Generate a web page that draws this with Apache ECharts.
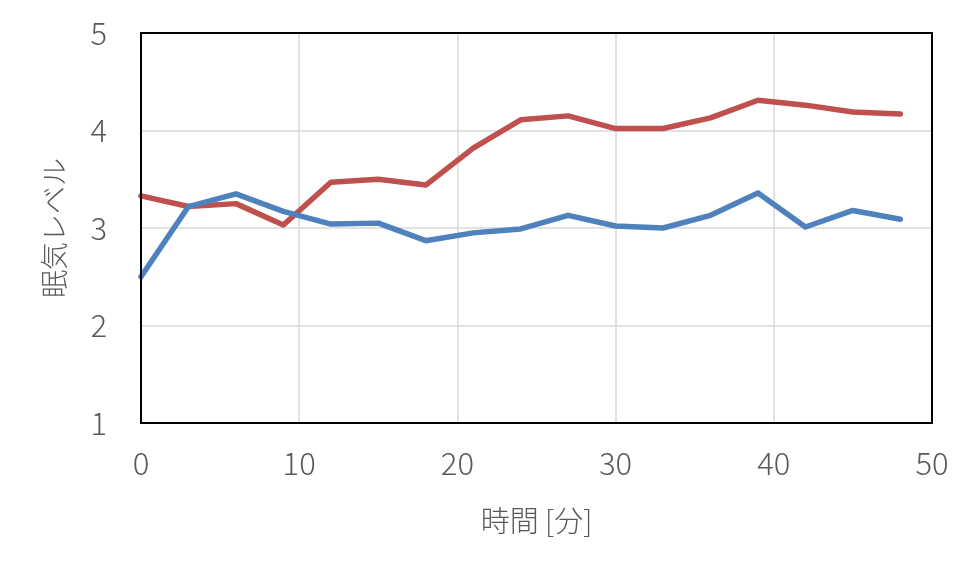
<!DOCTYPE html>
<html><head><meta charset="utf-8">
<script src="https://cdn.jsdelivr.net/npm/echarts@6/dist/echarts.min.js"></script>
<style>html,body{margin:0;padding:0;background:#fff}#c{width:973px;height:578px}</style>
</head><body><div id="c"></div>
<script>
const times = [0,3,6,9,12,15,18,21,24,27,30,33,36,39,42,45,48];
const redValues = [3.33,3.22,3.25,3.03,3.47,3.50,3.44,3.82,4.11,4.15,4.02,4.02,4.13,4.31,4.26,4.19,4.17];
const blueValues = [2.50,3.22,3.35,3.17,3.04,3.05,2.87,2.95,2.99,3.13,3.02,3.00,3.13,3.36,3.01,3.18,3.09];
const xTitle = '時間 [分]';
const yTitle = '眠気レベル';
const font = '"Noto Sans CJK JP", "Noto Sans", sans-serif';
const chart = echarts.init(document.getElementById('c'));
chart.setOption({
  animation:false,
  grid:{left:141,top:33,width:791,height:390,show:true,borderColor:'#000',borderWidth:2,backgroundColor:'transparent',z:10},
  xAxis:{type:'value',min:0,max:50,interval:10,
    name:xTitle,nameLocation:'middle',nameGap:83,
    nameTextStyle:{color:'#595959',fontSize:29,fontFamily:font,fontWeight:300},
    axisLine:{show:false},axisTick:{show:false},
    axisLabel:{color:'#595959',fontSize:31,fontFamily:font,fontWeight:300,margin:25},
    splitLine:{show:true,lineStyle:{color:'#d9d9d9',width:1.5}}},
  yAxis:{type:'value',min:1,max:5,interval:1,
    name:yTitle,nameLocation:'middle',nameGap:73,nameRotate:90,
    nameTextStyle:{color:'#595959',fontSize:28,fontFamily:font,fontWeight:300},
    axisLine:{show:false},axisTick:{show:false},
    axisLabel:{color:'#595959',fontSize:31,fontFamily:font,fontWeight:300,margin:34},
    splitLine:{show:true,lineStyle:{color:'#d9d9d9',width:1.5}}},
  series:[
    {type:'line',data:times.map((t,i)=>[t,redValues[i]]),showSymbol:false,
     lineStyle:{color:'#C0504D',width:5.5,cap:'round',join:'round'},itemStyle:{color:'#C0504D'}},
    {type:'line',data:times.map((t,i)=>[t,blueValues[i]]),showSymbol:false,
     lineStyle:{color:'#4F81BD',width:5.5,cap:'round',join:'round'},itemStyle:{color:'#4F81BD'}}
  ]
});
</script></body></html>
